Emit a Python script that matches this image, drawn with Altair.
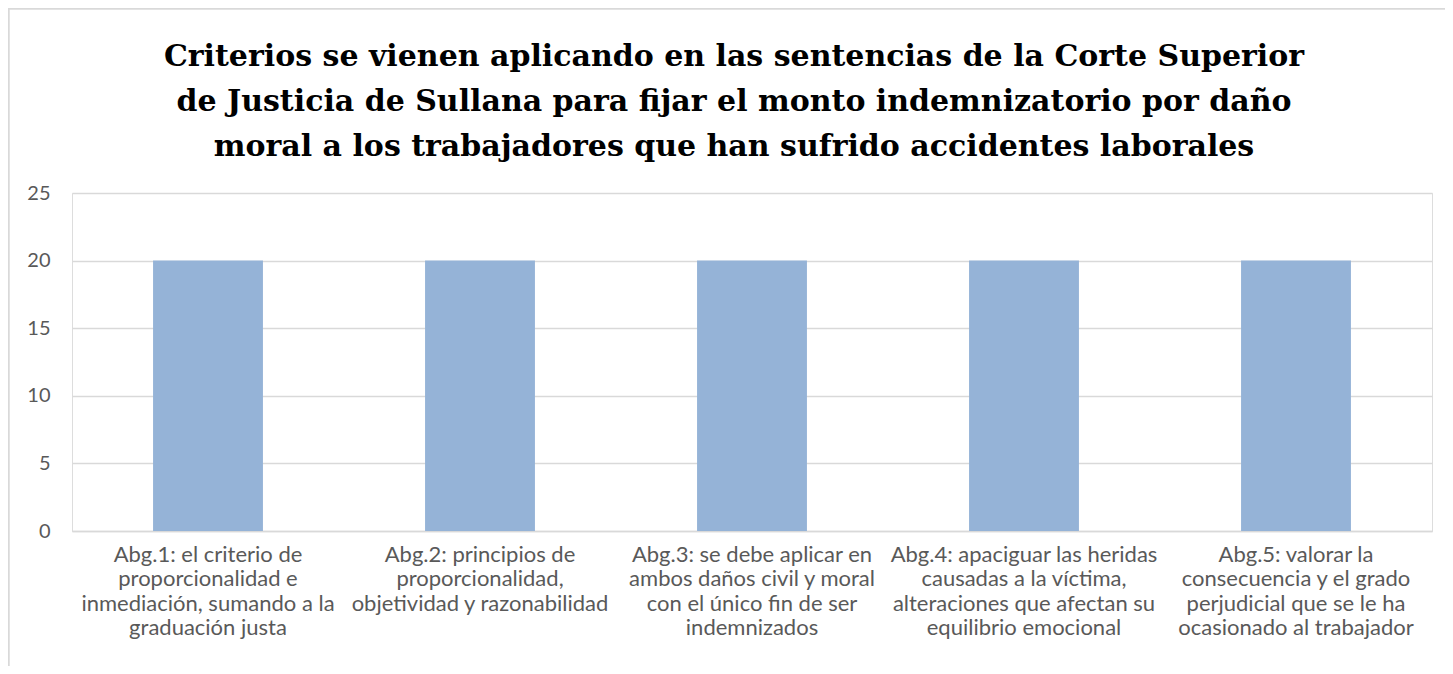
import altair as alt
import pandas as pd

categories = [
    "Abg.1: el criterio de|proporcionalidad e|inmediación, sumando a la|graduación justa",
    "Abg.2: principios de|proporcionalidad,|objetividad y razonabilidad",
    "Abg.3: se debe aplicar en|ambos daños civil y moral|con el único fin de ser|indemnizados",
    "Abg.4: apaciguar las heridas|causadas a la víctima,|alteraciones que afectan su|equilibrio emocional",
    "Abg.5: valorar la|consecuencia y el grado|perjudicial que se le ha|ocasionado al trabajador",
]
values = [20, 20, 20, 20, 20]
y_ticks = [0, 5, 10, 15, 20, 25]
title_lines = [
    "Criterios se vienen aplicando en las sentencias de la Corte Superior",
    "de Justicia de Sullana para fijar el monto indemnizatorio por daño",
    "moral a los trabajadores que han sufrido accidentes laborales",
]

df = pd.DataFrame({"cat": categories, "val": values})

bars = alt.Chart(df).mark_bar(color="#95B3D7").encode(
    x=alt.X(
        "cat:N",
        sort=categories,
        title=None,
        scale=alt.Scale(paddingInner=0.596, paddingOuter=0.298),
        axis=alt.Axis(
            labelAngle=0,
            labelLimit=0,
            labelExpr="split(datum.label, '|')",
            labelFont="Lato",
            labelFontSize=22,
            labelColor="#595959",
            labelLineHeight=24.5,
            labelPadding=13,
            ticks=False,
            domainColor="#D9D9D9",
            domainWidth=1.3,
            grid=False,
        ),
    ),
    y=alt.Y(
        "val:Q",
        title=None,
        scale=alt.Scale(domain=[0, 25], nice=False),
        axis=alt.Axis(
            values=y_ticks,
            labelFont="Lato",
            labelFontSize=20,
            labelColor="#595959",
            labelPadding=22,
            ticks=False,
            domain=False,
            gridColor="#D9D9D9",
            gridWidth=1.3,
        ),
    ),
)

border_top = alt.Chart(df).mark_rule(color="#D9D9D9", strokeWidth=1.5).encode(
    x=alt.value(-64), x2=alt.value(1400), y=alt.value(-184.5)
)
border_left = alt.Chart(df).mark_rule(color="#D9D9D9", strokeWidth=1.5).encode(
    x=alt.value(-63.5), y=alt.value(-185), y2=alt.value(500)
)

chart = alt.layer(border_top, border_left, bars).properties(
    width=1360,
    height=338,
    autosize=alt.AutoSizeParams(type="none"),
    padding={"left": 64, "top": 185, "right": 13, "bottom": 135},
    title=alt.Title(
        text=title_lines,
        font="DejaVu Serif",
        fontSize=30,
        fontWeight="bold",
        color="#000000",
        anchor="middle",
        dx=-18,
        dy=155,
        lineHeight=45,
        offset=0,
    ),
).configure_view(stroke=None).configure(background="white")

chart.save("out.html", embed_options={"renderer": "svg", "actions": False})
